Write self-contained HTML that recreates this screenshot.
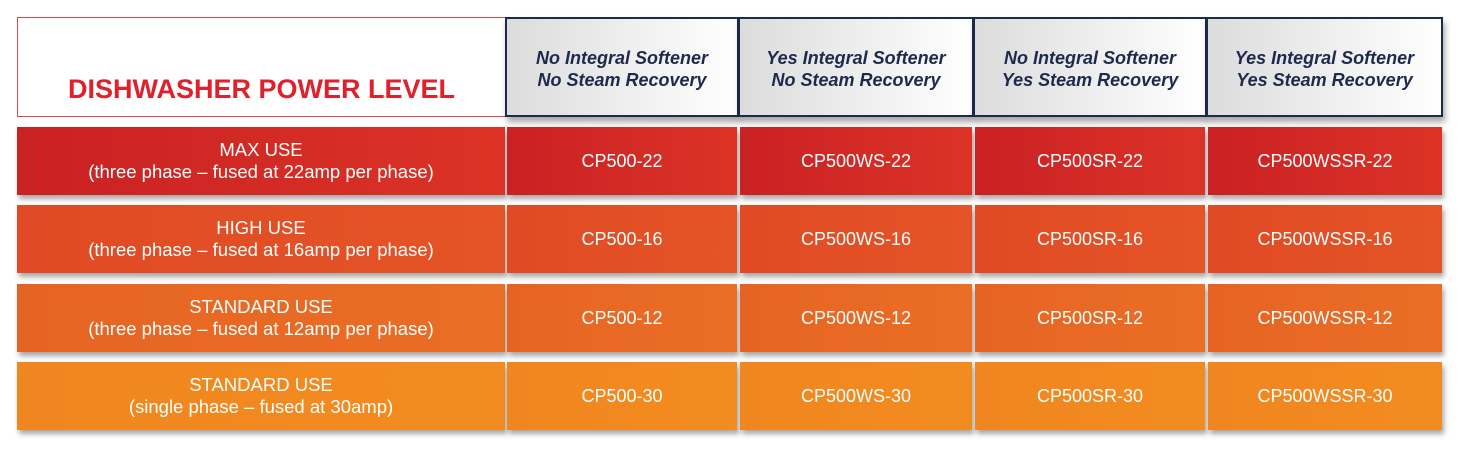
<!DOCTYPE html>
<html><head><style>
body{margin:0;width:1460px;height:456px;background:#fff;font-family:"Liberation Sans",sans-serif;position:relative;overflow:hidden}
.a{position:absolute;box-sizing:border-box;display:flex;align-items:center;justify-content:center;text-align:center;white-space:nowrap}
.t{border:1.5px solid #e0464a;left:17px;top:17px;width:489px;height:100px;color:#e0202a;font-weight:bold;font-size:27px;align-items:flex-end;padding-bottom:11px}
.h{top:17px;height:100px;border:2px solid #1d2a4c;background:linear-gradient(90deg,#dcdcdc,#fff);color:#1d2a4c;font-style:italic;font-weight:bold;font-size:18px;line-height:22px;padding-top:4px;box-shadow:2px 5px 6px rgba(0,0,0,.35)}
.r{height:68px;color:#fff;font-size:18.5px;line-height:22px;box-shadow:2px 4px 5px rgba(0,0,0,.35)}
.c{font-size:18px}
</style></head><body>
<div class="a t">DISHWASHER POWER LEVEL</div>
<div class="a h" style="left:505px;width:234px">No Integral Softener<br>No Steam Recovery</div>
<div class="a h" style="left:738px;width:236px">Yes Integral Softener<br>No Steam Recovery</div>
<div class="a h" style="left:973px;width:234px">No Integral Softener<br>Yes Steam Recovery</div>
<div class="a h" style="left:1206px;width:237px">Yes Integral Softener<br>Yes Steam Recovery</div>
<div id="rows"></div>
<script>
var rows=[[127,'#c92124','#dc3326','MAX USE','three phase – fused at 22amp per phase','22'],
[205,'#e04a24','#e55426','HIGH USE','three phase – fused at 16amp per phase','16'],
[284,'#e66423','#ea6e25','STANDARD USE','three phase – fused at 12amp per phase','12'],
[362,'#f0861f','#f38c20','STANDARD USE','single phase – fused at 30amp','30']];
var cols=[[17,488],[507,230],[740,232],[975,230],[1208,234]];
var names=['CP500-','CP500WS-','CP500SR-','CP500WSSR-'];
var h='';
rows.forEach(function(r){
 cols.forEach(function(c,i){
  var txt=i==0?r[3]+'<br>('+r[4]+')':names[i-1]+r[5];
  h+='<div class="a r'+(i?' c':'')+'" style="left:'+c[0]+'px;width:'+c[1]+'px;top:'+r[0]+'px;background:linear-gradient(90deg,'+r[1]+','+r[2]+')">'+txt+'</div>';
 });
});
document.getElementById('rows').innerHTML=h;
</script>
</body></html>
